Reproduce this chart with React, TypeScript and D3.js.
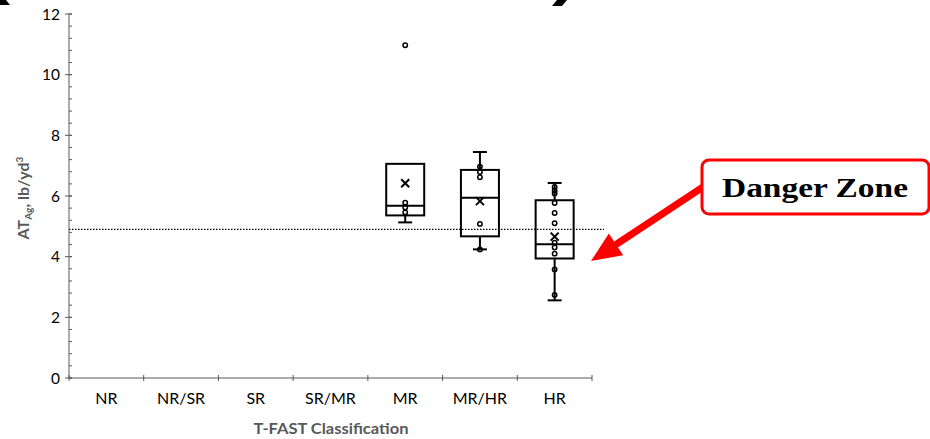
import React from "react";
import * as d3 from "d3";

const categories = ["NR", "NR/SR", "SR", "SR/MR", "MR", "MR/HR", "HR"];
const boxCats = ["MR", "MR/HR", "HR"];
const q1 = [5.36, 4.67, 3.94];
const medians = [5.68, 5.94, 4.41];
const q3 = [7.06, 6.86, 5.86];
const whiskerLow = [5.13, 4.24, 2.56];
const whiskerHigh = [7.06, 7.45, 6.43];
const means = [6.42, 5.83, 4.66];
const pointsMR = [5.78, 5.62, 5.46, 10.97];
const pointsMRHR = [6.97, 6.79, 6.62, 5.08, 4.24];
const pointsHR = [6.3, 6.18, 6.08, 5.77, 5.44, 5.1, 4.46, 4.3, 4.1, 3.58, 2.74];
const yTicks = [0, 2, 4, 6, 8, 10, 12];
const threshold = 4.9;
const calloutText = "Danger Zone";
const xTitle = "T-FAST Classification";

const W = 930;
const H = 439;

export default function App() {
  const x = d3.scaleBand<string>().domain(categories).range([69, 592]).padding(0);
  const y = d3.scaleLinear().domain([0, 12]).range([378, 14]);
  const minorTicks = d3.range(0, 12.0001, 0.4);
  const allPoints = [pointsMR, pointsMRHR, pointsHR];
  const bw = 38;
  const axisColor = "#595959";

  const start = [703, 187];
  const tip = [591, 261];
  const dx = start[0] - tip[0];
  const dy = start[1] - tip[1];
  const len = Math.hypot(dx, dy);
  const ux = dx / len, uy = dy / len;
  const px = -uy, py = ux;
  const headL = 30, headW = 13, shaftW = 3.5;
  const hb = [tip[0] + ux * headL, tip[1] + uy * headL];
  const arrowPts = [
    [start[0] + px * shaftW, start[1] + py * shaftW],
    [hb[0] + px * shaftW, hb[1] + py * shaftW],
    [hb[0] + px * headW, hb[1] + py * headW],
    tip,
    [hb[0] - px * headW, hb[1] - py * headW],
    [hb[0] - px * shaftW, hb[1] - py * shaftW],
    [start[0] - px * shaftW, start[1] - py * shaftW],
  ];

  return (
    <svg
      width={W}
      height={H}
      style={{ position: "absolute", left: 0, top: 0, background: "#fff" }}
      fontFamily="Lato, 'Open Sans', sans-serif"
    >
      <rect x={0} y={0} width={W} height={H} fill="#fff" />
      <polygon points="0,0 6,0 10,5 0,5" fill="#000" />
      <polygon points="557,0 567,0 562,6 552,6" fill="#000" />

      <line
        x1={69}
        x2={604}
        y1={y(threshold)}
        y2={y(threshold)}
        stroke="#000"
        strokeWidth={1.3}
        strokeDasharray="1.5,1.5"
      />

      <line x1={69} x2={69} y1={y(0)} y2={y(12)} stroke={axisColor} strokeWidth={1} />
      {minorTicks.map((t, i) => (
        <line key={"m" + i} x1={69} x2={72} y1={y(t)} y2={y(t)} stroke={axisColor} strokeWidth={1} />
      ))}
      {yTicks.map((t) => (
        <g key={"y" + t}>
          <line x1={65} x2={72} y1={y(t)} y2={y(t)} stroke={axisColor} strokeWidth={1} />
          <text x={60} y={y(t)} dy="0.36em" textAnchor="end" fontSize={15.5} fill="#000">
            {t}
          </text>
        </g>
      ))}

      <line x1={69} x2={592} y1={y(0)} y2={y(0)} stroke={axisColor} strokeWidth={1} />
      {[...categories.map((c) => x(c) as number), 592].map((v, i) => (
        <line key={"xt" + i} x1={v} x2={v} y1={y(0) - 3} y2={y(0) + 3} stroke={axisColor} strokeWidth={1} />
      ))}
      {categories.map((c) => (
        <text
          key={"xl" + c}
          x={(x(c) as number) + x.bandwidth() / 2}
          y={404}
          textAnchor="middle"
          fontSize={16}
          fill="#000"
        >
          {c}
        </text>
      ))}
      <text
        x={331}
        y={434}
        textAnchor="middle"
        fontSize={15}
        fontWeight="bold"
        fill="#595959"
        textLength={155}
        lengthAdjust="spacingAndGlyphs"
      >
        {xTitle}
      </text>
      <text
        transform={`translate(29,198) rotate(-90)`}
        textAnchor="middle"
        fontSize={16}
        fontWeight="bold"
        fill="#595959"
      >
        AT
        <tspan fontSize={10} dy={3}>Ag</tspan>
        <tspan dy={-3}>, lb/yd</tspan>
        <tspan fontSize={10} dy={-6}>3</tspan>
      </text>

      {boxCats.map((c, i) => {
        const cx = (x(c) as number) + x.bandwidth() / 2;
        const m = 4;
        return (
          <g key={"b" + c} stroke="#000" fill="none">
            <line x1={cx} x2={cx} y1={y(whiskerHigh[i])} y2={y(q3[i])} strokeWidth={2} />
            <line x1={cx} x2={cx} y1={y(q1[i])} y2={y(whiskerLow[i])} strokeWidth={2} />
            {whiskerHigh[i] > q3[i] && (
              <line x1={cx - 7} x2={cx + 7} y1={y(whiskerHigh[i])} y2={y(whiskerHigh[i])} strokeWidth={2} />
            )}
            <line x1={cx - 7} x2={cx + 7} y1={y(whiskerLow[i])} y2={y(whiskerLow[i])} strokeWidth={2} />
            <rect x={cx - bw / 2} y={y(q3[i])} width={bw} height={y(q1[i]) - y(q3[i])} strokeWidth={2} />
            <line x1={cx - bw / 2} x2={cx + bw / 2} y1={y(medians[i])} y2={y(medians[i])} strokeWidth={2} />
            <line x1={cx - m} x2={cx + m} y1={y(means[i]) - m} y2={y(means[i]) + m} strokeWidth={2} />
            <line x1={cx - m} x2={cx + m} y1={y(means[i]) + m} y2={y(means[i]) - m} strokeWidth={2} />
            {allPoints[i].map((p, j) => (
              <circle key={j} cx={cx} cy={y(p)} r={2.2} strokeWidth={1.5} fill="none" />
            ))}
          </g>
        );
      })}

      <polygon points={arrowPts.map((p) => p.join(",")).join(" ")} fill="#ff0000" />
      <rect x={702} y={160} width={227} height={54} rx={7} ry={7} fill="#fff" stroke="#ff0000" strokeWidth={3} />
      <text
        x={815}
        y={197}
        textAnchor="middle"
        fontFamily="'Liberation Serif', 'DejaVu Serif', serif"
        fontWeight="bold"
        fontSize={28}
        textLength={186}
        lengthAdjust="spacingAndGlyphs"
        fill="#000"
      >
        {calloutText}
      </text>
    </svg>
  );
}
